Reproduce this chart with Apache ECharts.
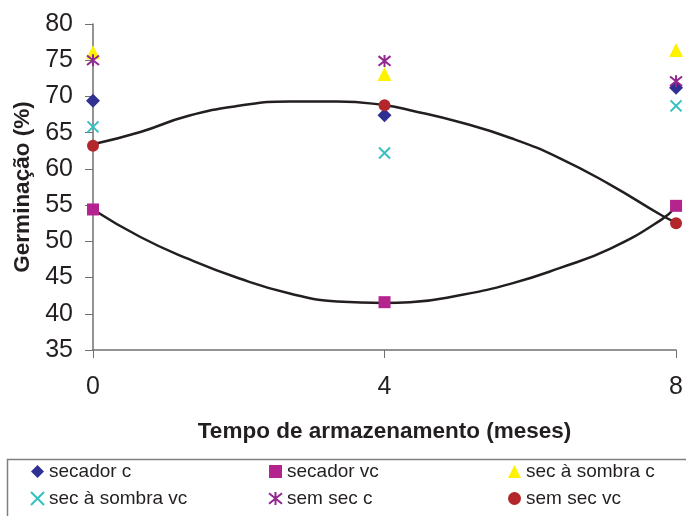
<!DOCTYPE html>
<html>
<head>
<meta charset="utf-8">
<script src="https://cdn.jsdelivr.net/npm/echarts@6/dist/echarts.min.js"></script>
<style>html,body{margin:0;padding:0;background:#fff}#c{width:686px;height:516px}</style>
</head>
<body>
<div id="c"></div>
<script>
// Tick labels / categories
var months = [0, 4, 8];
// Observed germination (%) per treatment, at months 0, 4, 8
var secadorC = [69.4, 67.4, 71.2];
var secadorVC = [54.4, 41.6, 54.9];
var sombraC = [76.1, 73.1, 76.4];
var sombraVC = [65.8, 62.2, 68.7];
var semSecC = [75.0, 74.9, 72.1];
var semSecVC = [63.2, 68.8, 52.5];
// Trend curves
var trendX = [0, 0.65, 1.3, 2, 2.7, 3.35, 4, 4.35, 5.05, 5.75, 6.4, 7.1, 7.8, 8];
var trendUpper = [63.4, 65.1, 67.3, 68.7, 69.3, 69.3, 68.8, 68.1, 66.4, 64.2, 61.5, 57.8, 53.6, 52.6];
var trendLower = [54.4, 50.6, 47.6, 44.9, 42.8, 41.7, 41.5, 41.6, 42.6, 44.2, 46.3, 49.0, 53.0, 54.8];

function pairs(xs, ys) { return xs.map(function (x, i) { return [x, ys[i]]; }); }

var font = 'Liberation Sans, Arial, sans-serif';
var txt = '#231f20';
var axisCol = '#707070';

var chart = echarts.init(document.getElementById('c'), null, {renderer: 'canvas'});

function scatter(name, data, symbol, size, color, stroke) {
  return {
    name: name, type: 'scatter', data: pairs(months, data),
    symbol: symbol, symbolSize: size, z: 5,
    itemStyle: stroke ? {color: 'rgba(0,0,0,0)', borderColor: color, borderWidth: 2, opacity: 1}
                      : {color: color, opacity: 1}
  };
}

var xPath = 'path://M0,0L10,10M10,0L0,10';
var starPath = 'path://M0,1L10,9M10,1L0,9M5,0L5,10';

function legendCol(left, items) {
  return {left: left, top: 462, orient: 'vertical', padding: 0, itemWidth: 13, itemHeight: 13, itemGap: 8,
          data: items, textStyle: {fontFamily: font, fontSize: 19, color: txt}};
}

chart.setOption({
  animation: false,
  grid: {left: 93, right: 8, top: 24, bottom: 166},
  xAxis: {
    type: 'value', min: 0, max: 8, interval: 4,
    name: 'Tempo de armazenamento (meses)', nameLocation: 'middle', nameGap: 70,
    nameTextStyle: {fontFamily: font, fontWeight: 'bold', fontSize: 22.5, color: txt},
    axisLine: {lineStyle: {color: axisCol, width: 1.5}},
    axisTick: {show: true, length: 8, lineStyle: {color: axisCol, width: 1}},
    axisLabel: {fontFamily: font, fontSize: 25, color: txt, margin: 25},
    splitLine: {show: false}
  },
  yAxis: {
    type: 'value', min: 35, max: 80, interval: 5,
    name: 'Germinação (%)', nameLocation: 'middle', nameGap: 53,
    nameTextStyle: {fontFamily: font, fontWeight: 'bold', fontSize: 22.5, color: txt},
    axisLine: {show: true, lineStyle: {color: axisCol, width: 1.5}},
    axisTick: {show: true, length: 8, lineStyle: {color: axisCol, width: 1}},
    axisLabel: {fontFamily: font, fontSize: 25, color: txt, margin: 20},
    splitLine: {show: false}
  },
  legend: [
    legendCol(30, ['secador c', 'sec à sombra vc']),
    legendCol(268, ['secador vc', 'sem sec c']),
    legendCol(508, ['sec à sombra c', 'sem sec vc'])
  ],
  graphic: [{
    type: 'rect', left: 5, top: 457, shape: {width: 700, height: 80},
    style: {fill: 'none', stroke: '#7f7f7f', lineWidth: 1.5}, silent: true
  }],
  series: [
    {name: 'trendUpper', type: 'line', data: pairs(trendX, trendUpper), smooth: true, symbol: 'none', z: 2,
     lineStyle: {color: txt, width: 2.5}},
    {name: 'trendLower', type: 'line', data: pairs(trendX, trendLower), smooth: true, symbol: 'none', z: 2,
     lineStyle: {color: txt, width: 2.5}},
    scatter('secador c', secadorC, 'diamond', 14, '#2e3192'),
    scatter('secador vc', secadorVC, 'rect', 12, '#b5238e'),
    scatter('sec à sombra c', sombraC, 'triangle', 14, '#fff200'),
    scatter('sec à sombra vc', sombraVC, xPath, 11, '#33c0c0', true),
    scatter('sem sec c', semSecC, starPath, 12, '#92278f', true),
    scatter('sem sec vc', semSecVC, 'circle', 12, '#b3262b')
  ]
});
</script>
</body>
</html>
